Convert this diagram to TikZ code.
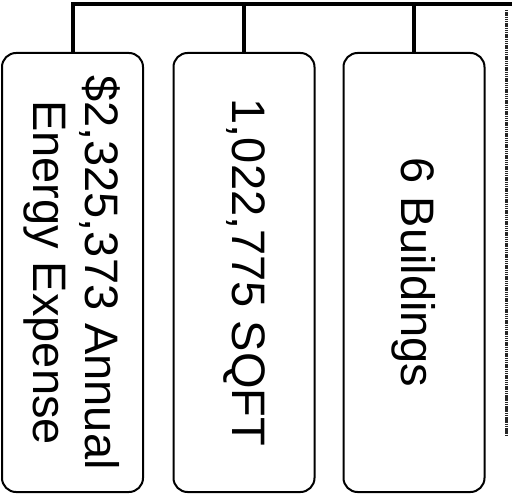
\documentclass[tikz,border=0pt]{standalone}
\usepackage{fontspec}
\setmainfont{Liberation Sans}
\usepackage{tikz}
\usepackage{xcolor}
\tikzset{
  busline/.style={line width=4pt, black},
  factbox/.style={draw, line width=2pt, rounded corners=14pt, rotate=-90,
    minimum width=439pt, minimum height=141pt, inner sep=0pt, align=center,
    font=\fontsize{47}{52}\selectfont},
  scanline/.style={line width=2.4pt, black!85, dash pattern=on 1.5pt off 0.7pt},
}

\begin{document}
\begin{tikzpicture}[x=1pt,y=1pt]
\useasboundingbox (0,0) rectangle (512,-497);
\node[factbox] (energy) at (72.5,-272.5) {\$2,325,373 Annual\\Energy Expense};
\node[factbox] (sqft) at (244,-272.5) {1,022,775 SQFT};
\node[factbox] (bldg) at (414,-272.5) {6 Buildings};
\coordinate (busend) at (512,-4.5);
\draw[busline] (energy.west) |- (busend);
\draw[busline] (sqft.west) -- (sqft.west |- busend);
\draw[busline] (bldg.west) -- (bldg.west |- busend);
\draw[scanline] (506.5,-10) -- (506.5,-435);
\end{tikzpicture}
\end{document}
